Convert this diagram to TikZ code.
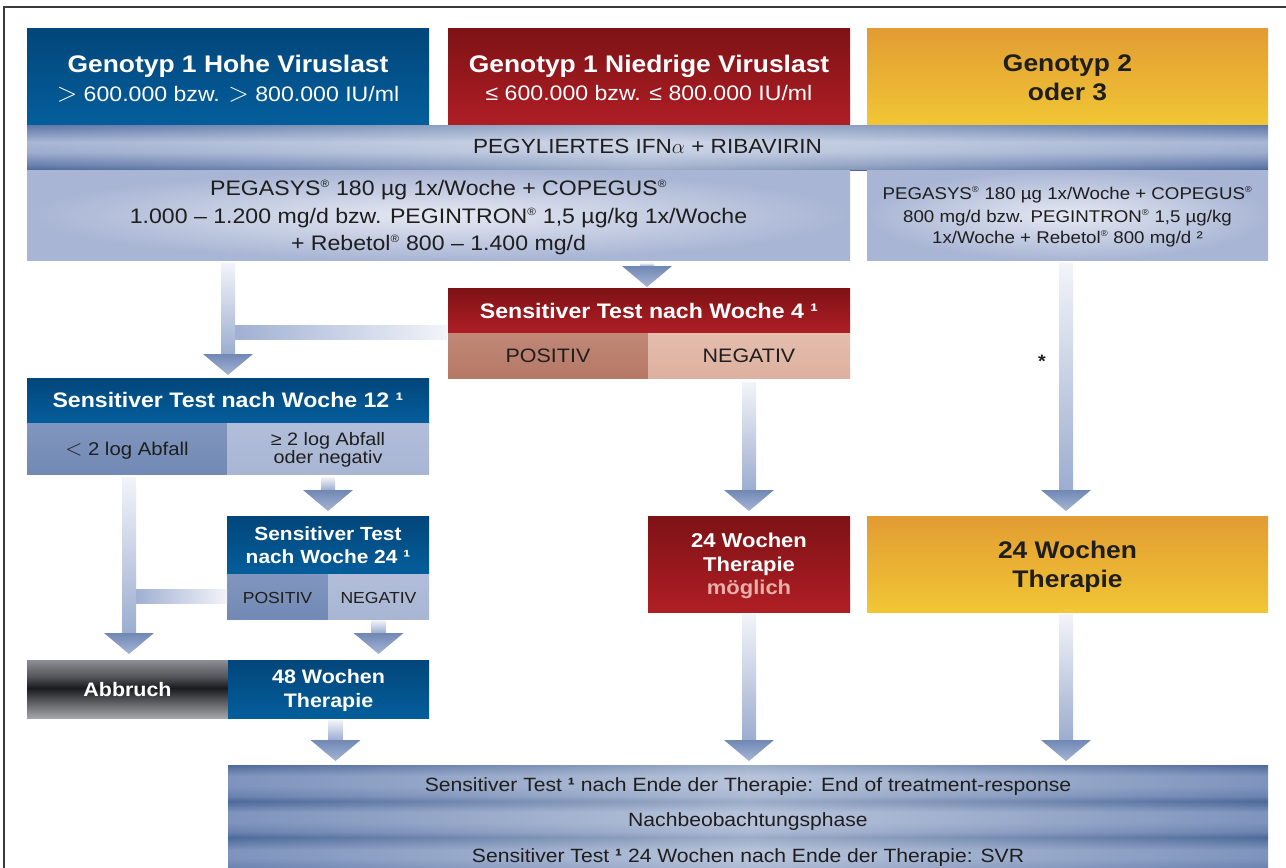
\documentclass[tikz,border=0pt]{standalone}
\usepackage{fontspec}
\usepackage{graphicx}
\setmainfont{Liberation Sans}[FakeStretch=1.1]
\usetikzlibrary{calc,fadings}
\definecolor{blueT}{HTML}{02467A}
\definecolor{blueB}{HTML}{045E9C}
\definecolor{redT}{HTML}{7D1215}
\definecolor{redB}{HTML}{AF1E25}
\definecolor{goldT}{HTML}{E29C33}
\definecolor{goldB}{HTML}{F1C634}
\definecolor{dark}{HTML}{1E1E1E}
\definecolor{framecol}{HTML}{3A3A3A}
\definecolor{doseC}{HTML}{E6E9F3}
\definecolor{doseE}{HTML}{A8B5D4}
\definecolor{cellDT}{HTML}{8196BE}
\definecolor{cellDB}{HTML}{7189B4}
\definecolor{cellLT}{HTML}{B2BED9}
\definecolor{cellLB}{HTML}{A8B6D4}
\definecolor{rcellDT}{HTML}{C08877}
\definecolor{rcellDB}{HTML}{B67866}
\definecolor{rcellLT}{HTML}{E4BEAE}
\definecolor{rcellLB}{HTML}{DDB09F}
\definecolor{shaftT}{HTML}{F3F4F9}
\definecolor{shaftB}{HTML}{9CADD0}
\definecolor{headT}{HTML}{7088B4}
\definecolor{headB}{HTML}{A6B5D5}
\definecolor{brL}{HTML}{A0B0D2}
\definecolor{brR}{HTML}{F3F4F9}
\definecolor{moeg}{HTML}{E9AFA9}
% PEG band colours
\definecolor{pegA}{HTML}{4E6796}
\definecolor{pegB}{HTML}{6880AE}
\definecolor{pegC}{HTML}{9DADCE}
\definecolor{pegD}{HTML}{A9B7D5}
\definecolor{pegF}{HTML}{8599C0}
\definecolor{pegE}{HTML}{5E77A6}
% bottom stripes
\definecolor{stD}{HTML}{4E6A9A}
\definecolor{stM}{HTML}{6A82B0}
\definecolor{stL}{HTML}{7E94BD}
\definecolor{stK}{HTML}{5C76A5}
% Abbruch
\definecolor{abA}{HTML}{A3A5A9}
\definecolor{abB}{HTML}{6E7074}
\definecolor{abC}{HTML}{1A1B1F}
\definecolor{abD}{HTML}{55575C}
\definecolor{abE}{HTML}{8C8E93}

\pgfdeclareverticalshading{pegshade}{100bp}{color(0bp)=(pegA); color(25bp)=(pegA); color(30.6bp)=(pegB); color(45bp)=(pegC); color(56bp)=(pegD); color(65bp)=(pegF); color(75bp)=(pegE); color(100bp)=(pegE)}
\pgfdeclareverticalshading{stripeshade}{100bp}{color(0bp)=(stM); color(25bp)=(stM); color(29.9bp)=(stL); color(33.7bp)=(stL); color(38.1bp)=(stK); color(40bp)=(stD); color(42.5bp)=(stM); color(47.3bp)=(stL); color(52.2bp)=(stL); color(55.6bp)=(stK); color(57.5bp)=(stD); color(60bp)=(stM); color(64.8bp)=(stL); color(69.7bp)=(stL); color(73.5bp)=(stK); color(75bp)=(stD); color(100bp)=(stD)}
\pgfdeclareverticalshading{abbshade}{100bp}{color(0bp)=(abA); color(25bp)=(abA); color(35.3bp)=(abB); color(50.9bp)=(abC); color(61.2bp)=(abD); color(75bp)=(abE); color(100bp)=(abE)}

\tikzfading[name=hglow, left color=transparent!100, right color=transparent!100, middle color=transparent!55]

\newcommand\fz[1]{\fontsize{#1pt}{#1pt}\selectfont}
\newcommand\reg{\textsuperscript{\scalebox{0.72}{®}}}
\newcommand\bigrel[1]{\raisebox{-0.02em}{\scalebox{1.3}{$#1$}}}
\newcommand\fatarrow[2]{%
  \shade[top color=shaftT, bottom color=shaftB] let \p1=(#1), \p2=(#2) in
    (\x1-7pt,\y1) rectangle (\x1+7pt,\y2+21pt);
  \shade[top color=headT, bottom color=headB] let \p1=(#1), \p2=(#2) in
    (\x1-25pt,\y2+21pt) -- (\x1+25pt,\y2+21pt) -- (\x1,\y2) -- cycle;
}

\tikzset{
  box/.style={rectangle, inner sep=0pt, outer sep=0pt, anchor=north west},
  bluebox/.style={box, top color=blueT, bottom color=blueB},
  redbox/.style={box, top color=redT, bottom color=redB},
  goldbox/.style={box, top color=goldT, bottom color=goldB},
  dosebox/.style={box, inner color=doseC, outer color=doseE},
  celldark/.style={box, top color=cellDT, bottom color=cellDB},
  celllight/.style={box, top color=cellLT, bottom color=cellLB},
  rcelldark/.style={box, top color=rcellDT, bottom color=rcellDB},
  rcelllight/.style={box, top color=rcellLT, bottom color=rcellLB},
  txt/.style={inner sep=0pt, outer sep=0pt, anchor=base},
  wtxt/.style={txt, text=white},
  dtxt/.style={txt, text=dark},
}

\begin{document}
\begin{tikzpicture}[x=1pt,y=-1pt]
\useasboundingbox (0,0) rectangle (1286,868);
\fill[white] (0,0) rectangle (1286,868);
\draw[framecol, line width=2pt] (4,869) -- (4,7) -- (1287,7);

% ---------- boxes ----------
\node[bluebox, minimum width=402pt, minimum height=97pt] (g1h) at (27,28) {};
\node[redbox, minimum width=402pt, minimum height=97pt] (g1n) at (448,28) {};
\node[goldbox, minimum width=401pt, minimum height=97pt] (g23) at (867,28) {};
\node[box, shade, shading=pegshade, minimum width=1241pt, minimum height=45pt] (peg) at (27,125) {};
\fill[white, path fading=hglow] (peg.north west) rectangle (peg.south east);
\node[dosebox, minimum width=823pt, minimum height=90pt] (dose1) at (27,170) {};
\node[dosebox, minimum width=401pt, minimum height=90pt] (dose2) at (867,170) {};

\node[redbox, minimum width=402pt, minimum height=45pt] (t4h) at (448,288) {};
\node[rcelldark, minimum width=200pt, minimum height=45pt] (pos4) at (448,333) {};
\node[rcelllight, minimum width=202pt, minimum height=45pt] (neg4) at (648,333) {};

\node[bluebox, minimum width=402pt, minimum height=45pt] (t12h) at (27,378) {};
\node[celldark, minimum width=200pt, minimum height=51pt] (lt2) at (27,423) {};
\node[celllight, minimum width=202pt, minimum height=51pt] (ge2) at (227,423) {};

\node[bluebox, minimum width=202pt, minimum height=58pt] (t24h) at (227,516) {};
\node[celldark, minimum width=101pt, minimum height=45pt] (pos24) at (227,574) {};
\node[celllight, minimum width=101pt, minimum height=45pt] (neg24) at (328,574) {};

\node[box, shade, shading=abbshade, minimum width=201pt, minimum height=58pt] (abb) at (27,660) {};
\node[bluebox, minimum width=201pt, minimum height=58pt] (w48) at (228,660) {};

\node[redbox, minimum width=202pt, minimum height=96pt] (m24) at (648,516) {};
\node[goldbox, minimum width=401pt, minimum height=96pt] (g24) at (867,516) {};

\node[box, shade, shading=stripeshade, minimum width=1040pt, minimum height=103pt] (fin) at (228,765) {};
\fill[white, path fading=hglow] (fin.north west) rectangle (fin.south east);

% ---------- branches ----------
\shade[left color=brL, right color=brR]
  let \p1=($(dose1.south -| t12h.north)+(7,0)$), \p2=($(pos4.north west)+(-1,-1)$) in
  (\x1,\y2+7pt) rectangle (\x2,\y2-7pt);
\shade[left color=brL, right color=brR]
  let \p1=($(lt2.south)+(9,0)$), \p2=(pos24.west) in
  (\x1,\y2+7pt) rectangle (\x2,\y2-7pt);

% ---------- arrows ----------
\fatarrow{$(dose1.south -| t12h.north)+(0,3)$}{$(t12h.north)+(0,-3)$}
\fatarrow{$(dose1.south -| t4h.north)+(-2,3)$}{$(t4h.north)+(-2,-1)$}
\fatarrow{$(neg4.south)+(0,4)$}{$(m24.north)+(0,-5)$}
\fatarrow{$(dose2.south)+(-1.5,3)$}{$(g24.north)+(-1.5,-5)$}
\fatarrow{$(lt2.south)+(2,3)$}{$(abb.north)+(2,-6)$}
\fatarrow{$(ge2.south)+(0,3)$}{$(t24h.north)+(0,-5)$}
\fatarrow{$(neg24.south)+(0,1)$}{$(w48.north -| neg24.south)+(0,-6)$}
\fatarrow{$(w48.south)+(7,2)$}{$(fin.north -| w48.south)+(7,-4)$}
\fatarrow{$(m24.south)+(0,2)$}{$(fin.north -| m24.south)+(0,-4)$}
\fatarrow{$(g24.south)+(-1.5,2)$}{$(fin.north -| g24.south)+(-1.5,-4)$}

% ---------- texts ----------
\node[wtxt, font=\fz{24}\bfseries] (g1h-a) at (228,72) {Genotyp 1 Hohe Viruslast};
\node[wtxt, font=\fz{21}] (g1h-b) at (228,101) {\bigrel{>} 600.000 bzw. \bigrel{>} 800.000 IU/ml};
\node[wtxt, font=\fz{24}\bfseries] (g1n-a) at (649,72) {Genotyp 1 Niedrige Viruslast};
\node[wtxt, font=\fz{21}] (g1n-b) at (649,100) {≤ 600.000 bzw. ≤ 800.000 IU/ml};
\node[dtxt, font=\fz{24}\bfseries] (g23-a) at (1067.5,71) {Genotyp 2};
\node[dtxt, font=\fz{24}\bfseries] (g23-b) at (1067.5,100) {oder 3};

\node[dtxt, font=\fz{20.5}] (peg-t) at (647.5,153) {PEGYLIERTES IFN$\alpha$ + RIBAVIRIN};

\node[dtxt, font=\fz{21}] (d1-a) at (438.5,195) {PEGASYS\reg{} 180 µg 1x/Woche + COPEGUS\reg};
\node[dtxt, font=\fz{21}] (d1-b) at (438.5,223) {1.000 – 1.200 mg/d bzw. PEGINTRON\reg{} 1,5 µg/kg 1x/Woche};
\node[dtxt, font=\fz{21}] (d1-c) at (438.5,250) {+ Rebetol\reg{} 800 – 1.400 mg/d};
\node[dtxt, font=\fz{17}] (d2-a) at (1067.5,199) {PEGASYS\reg{} 180 µg 1x/Woche + COPEGUS\reg};
\node[dtxt, font=\fz{17}] (d2-b) at (1067.5,222) {800 mg/d bzw. PEGINTRON\reg{} 1,5 µg/kg};
\node[dtxt, font=\fz{17}] (d2-c) at (1067.5,243) {1x/Woche + Rebetol\reg{} 800 mg/d ²};

\node[wtxt, font=\fz{21}\bfseries] (t4-t) at (649,318) {Sensitiver Test nach Woche 4 ¹};
\node[dtxt, font=\fz{19.5}] (pos4-t) at (548,362) {POSITIV};
\node[dtxt, font=\fz{19.5}] (neg4-t) at (749,362) {NEGATIV};

\node[wtxt, font=\fz{21}\bfseries] (t12-t) at (228,407) {Sensitiver Test nach Woche 12 ¹};
\node[dtxt, font=\fz{18.5}] (lt2-t) at (127,455) {\bigrel{<} 2 log Abfall};
\node[dtxt, font=\fz{18}] (ge2-a) at (328,445) {≥ 2 log Abfall};
\node[dtxt, font=\fz{18}] (ge2-b) at (328,463) {oder negativ};

\node[wtxt, font=\fz{19}\bfseries] (t24-a) at (328,540) {Sensitiver Test};
\node[wtxt, font=\fz{19}\bfseries] (t24-b) at (328,563) {nach Woche 24 ¹};
\node[dtxt, font=\fz{16}] (pos24-t) at (277.5,603) {POSITIV};
\node[dtxt, font=\fz{16}] (neg24-t) at (378.5,603) {NEGATIV};

\node[wtxt, font=\fz{19.5}\bfseries] (abb-t) at (127.5,696) {Abbruch};
\node[wtxt, font=\fz{19.5}\bfseries] (w48-a) at (328.5,683) {48 Wochen};
\node[wtxt, font=\fz{19.5}\bfseries] (w48-b) at (328.5,707) {Therapie};

\node[wtxt, font=\fz{20}\bfseries] (m24-a) at (749,547) {24 Wochen};
\node[wtxt, font=\fz{20}\bfseries] (m24-b) at (749,571) {Therapie};
\node[txt, text=moeg, font=\fz{20}\bfseries] (m24-c) at (749,594) {möglich};

\node[dtxt, font=\fz{24}\bfseries] (g24-a) at (1067.5,558) {24 Wochen};
\node[dtxt, font=\fz{24}\bfseries] (g24-b) at (1067.5,587) {Therapie};

\node[dtxt, font=\fz{18}\bfseries] (ast) at (1042,367) {*};

\node[dtxt, font=\fz{19.2}] (fin-a) at (748,791) {Sensitiver Test {\bfseries ¹} nach Ende der Therapie: End of treatment-response};
\node[dtxt, font=\fz{19.2}] (fin-b) at (748,826) {Nachbeobachtungsphase};
\node[dtxt, font=\fz{19.2}] (fin-c) at (748,862) {Sensitiver Test {\bfseries ¹} 24 Wochen nach Ende der Therapie: SVR};
\end{tikzpicture}
\end{document}
